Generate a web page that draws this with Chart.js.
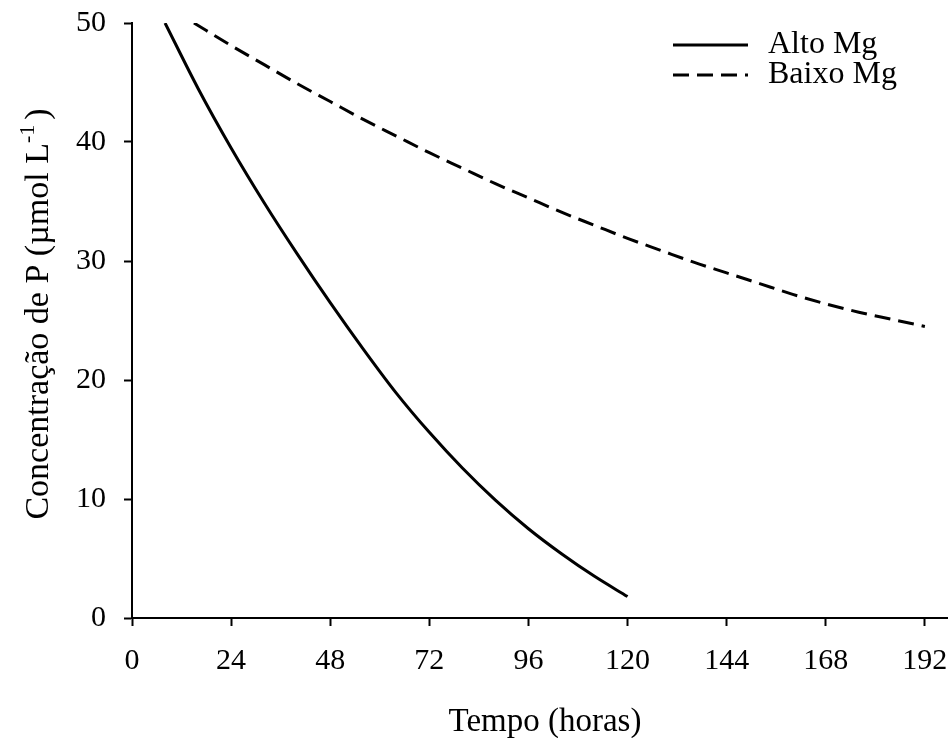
<!DOCTYPE html>
<html>
<head>
<meta charset="utf-8">
<script src="https://cdn.jsdelivr.net/npm/chart.js@4.4.0/dist/chart.umd.min.js"></script>
<style>
body{margin:0;background:#fff}
#box{width:948px;height:738px}
</style>
</head>
<body>
<div id="box"><canvas id="graf"></canvas></div>
<script>
// valores
const altoHoras=[8,16,24,32,40,48,56,64,72,80,88,96,104,112,120];
const altoP=[50.0,44.5,39.5,34.9,30.6,26.5,22.6,18.9,15.6,12.6,9.9,7.5,5.4,3.5,1.8];
const baixoHoras=[15,24,32,40,48,56,64,72,80,88,96,104,112,120,128,136,144,152,160,168,176,184,192];
const baixoP=[50.0,48.1,46.5,44.9,43.4,41.9,40.5,39.1,37.8,36.5,35.3,34.1,33.0,31.9,30.9,29.9,29.0,28.1,27.2,26.4,25.7,25.1,24.5];
const series=["Alto Mg","Baixo Mg"];
const tituloX="Tempo (horas)";
const tituloY="Concentração de P (µmol L";

const fonte="'Liberation Serif','Times New Roman',serif";

function pontos(h,p){
    return h.map((x,i)=>({x:x,y:p[i]}));
}

const textos={
    id:'textos',
    afterDraw(chart){
        const ctx=chart.ctx;
        ctx.save();
        ctx.fillStyle='#000';
        // titulo x
        ctx.font='33px '+fonte;
        ctx.textAlign='center';
        ctx.textBaseline='alphabetic';
        ctx.fillText(tituloX,545,731);
        // titulo y com expoente
        ctx.save();
        ctx.translate(48,314);
        ctx.rotate(-Math.PI/2);
        ctx.textAlign='left';
        ctx.font='34px '+fonte;
        const w1=ctx.measureText(tituloY).width;
        const w3=ctx.measureText(')').width;
        ctx.font='22px '+fonte;
        const w2=ctx.measureText('-1').width;
        let x=-(w1+w2+5+w3)/2;
        ctx.font='34px '+fonte;
        ctx.fillText(tituloY,x,0);
        x+=w1;
        ctx.font='22px '+fonte;
        ctx.fillText('-1',x,-14);
        x+=w2+5;
        ctx.font='34px '+fonte;
        ctx.fillText(')',x,0);
        ctx.restore();
        // legenda
        const itens=chart.legend.legendItems;
        itens.forEach((it,i)=>{
            const y=45+i*30;
            ctx.beginPath();
            ctx.lineWidth=3;
            ctx.strokeStyle=it.strokeStyle;
            ctx.setLineDash(it.lineDash||[]);
            ctx.moveTo(673,y);
            ctx.lineTo(748,y);
            ctx.stroke();
            ctx.setLineDash([]);
            ctx.font='32px '+fonte;
            ctx.textAlign='left';
            ctx.textBaseline='middle';
            ctx.fillText(it.text,768,y);
        });
        ctx.restore();
    }
};

const eixo={
    grid:{drawOnChartArea:false,drawTicks:true,tickLength:8,tickWidth:2,color:'#000'},
    border:{display:true,color:'#000',width:2}
};

new Chart(document.getElementById('graf'),{
    type:'line',
    data:{
        datasets:[{
            label:series[0],
            data:pontos(altoHoras,altoP),
            borderColor:'#000',
            borderWidth:3,
            pointRadius:0,
            fill:false,
            cubicInterpolationMode:'monotone'
        },{
            label:series[1],
            data:pontos(baixoHoras,baixoP),
            borderColor:'#000',
            borderWidth:3,
            borderDash:[16,8],
            pointRadius:0,
            fill:false,
            cubicInterpolationMode:'monotone'
        }]
    },
    options:{
        responsive:true,
        maintainAspectRatio:false,
        animation:false,
        layout:{padding:{top:23,right:0,bottom:0,left:0}},
        plugins:{legend:{display:false},tooltip:{enabled:false}},
        scales:{
            x:{
                type:'linear',
                min:0,
                max:197.6,
                ticks:{stepSize:24,includeBounds:false,color:'#000',padding:17,font:{family:fonte,size:30}},
                grid:eixo.grid,
                border:eixo.border,
                afterFit(s){s.height=120;s.paddingLeft=0;s.paddingRight=0;}
            },
            y:{
                min:0,
                max:50,
                ticks:{stepSize:10,color:'#000',padding:18,font:{family:fonte,size:30}},
                grid:eixo.grid,
                border:eixo.border,
                afterFit(s){s.width=132;s.paddingTop=0;s.paddingBottom=0;}
            }
        }
    },
    plugins:[textos]
});
</script>
</body>
</html>
